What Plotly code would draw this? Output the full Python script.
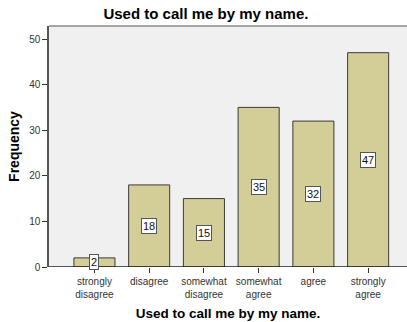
import plotly.graph_objects as go

categories = ["strongly<br>disagree", "disagree", "somewhat<br>disagree",
              "somewhat<br>agree", "agree", "strongly<br>agree"]
frequencies = [2, 18, 15, 35, 32, 47]
y_ticks = [0, 10, 20, 30, 40, 50]
chart_title = "Used to call me by my name."
x_title = "Used to call me by my name."
y_title = "Frequency"

FONT = "Liberation Sans, Arial, sans-serif"
xs = list(range(len(categories)))

fig = go.Figure()
fig.add_trace(go.Bar(
    x=xs, y=frequencies, width=0.75,
    marker=dict(color="#D3CE97", line=dict(color="#3a3a3a", width=1)),
    hoverinfo="skip",
))

for xi, v in zip(xs, frequencies):
    fig.add_annotation(
        x=xi, y=v / 2, text=str(v), showarrow=False,
        font=dict(family=FONT, size=11, color="#111"),
        bgcolor="white", bordercolor="#555", borderwidth=1, borderpad=1,
    )

fig.add_shape(type="line", xref="paper", yref="paper", x0=0, x1=1, y0=1, y1=1,
              line=dict(color="#8a8a8a", width=1.5))

fig.update_layout(
    width=407, height=322,
    margin=dict(l=49, r=0, t=26, b=55),
    paper_bgcolor="white", plot_bgcolor="#F0F0F0",
    showlegend=False,
    title=dict(text="<b>" + chart_title + "</b>", x=0.506, xanchor="center",
               y=1 - 14 / 322, yanchor="middle",
               font=dict(family=FONT, size=15, color="#000")),
    xaxis=dict(
        range=[-0.83, 5.71], tickmode="array", tickvals=xs, ticktext=categories,
        showgrid=False, zeroline=False, showline=False,
        ticks="outside", ticklen=5, tickcolor="#333",
        tickfont=dict(family=FONT, size=10, color="#333"),
        title=dict(text="<b>" + x_title + "</b>", standoff=9,
                   font=dict(family=FONT, size=13.5, color="#000")),
        fixedrange=True,
    ),
    yaxis=dict(
        range=[0, 52.85], tickmode="array", tickvals=y_ticks,
        showgrid=False, zeroline=False, showline=True, linecolor="#555", linewidth=1.5,
        ticks="outside", ticklen=5, tickcolor="#333",
        tickfont=dict(family=FONT, size=10, color="#333"),
        title=dict(text="<b>" + y_title + "</b>", standoff=6,
                   font=dict(family=FONT, size=14, color="#000")),
        fixedrange=True,
    ),
)

fig.add_shape(type="line", xref="paper", yref="y", x0=0, x1=1, y0=0, y1=0,
              line=dict(color="#222", width=1.5))

fig.write_html("out.html", config={"displayModeBar": False})
